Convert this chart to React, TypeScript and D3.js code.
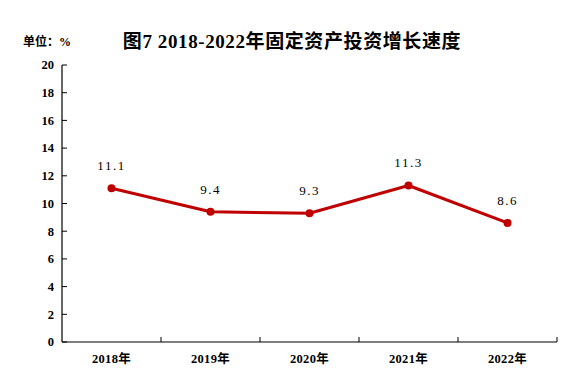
import React from "react";
import * as d3 from "d3";

const categories = ["2018年", "2019年", "2020年", "2021年", "2022年"];
const values = [11.1, 9.4, 9.3, 11.3, 8.6];
const valueLabels = ["11.1", "9.4", "9.3", "11.3", "8.6"];
const yTicks = [0, 2, 4, 6, 8, 10, 12, 14, 16, 18, 20];
const title = "图7 2018-2022年固定资产投资增长速度";
const unitLabel = "单位：%";

const W = 580;
const H = 380;
const M = { left: 62, right: 23, top: 65, bottom: 38 };
const FONT = "'Liberation Serif', 'DejaVu Serif', 'Noto Sans CJK SC', serif";

export default function App() {
  const x = d3
    .scaleBand<string>()
    .domain(categories)
    .range([M.left, W - M.right])
    .padding(0);
  const y = d3.scaleLinear().domain([0, 20]).range([H - M.bottom, M.top]);
  const cx = (c: string) => (x(c) as number) + x.bandwidth() / 2;
  const line = d3
    .line<number>()
    .x((_, i) => cx(categories[i]))
    .y((d) => y(d));
  const boundaries = categories.map((c) => (x(c) as number) + x.bandwidth());

  return (
    <svg
      width={W}
      height={H}
      style={{ position: "absolute", left: 0, top: 0, background: "#fff" }}
    >
      <text
        x={292}
        y={48}
        textAnchor="middle"
        fontFamily="'Liberation Serif', 'Noto Sans CJK SC', serif"
        fontWeight="bold"
        fontSize={19}
        letterSpacing={0.6}
        fill="#000"
      >
        {title}
      </text>
      <text
        x={23}
        y={46}
        fontFamily={FONT}
        fontWeight="bold"
        fontSize={12}
        fill="#000"
      >
        {unitLabel}
      </text>
      {/* y axis */}
      <line x1={M.left} x2={M.left} y1={y(20)} y2={y(0)} stroke="#000" strokeWidth={1.2} />
      {yTicks.map((t) => (
        <g key={t}>
          <line x1={M.left} x2={M.left + 5} y1={y(t)} y2={y(t)} stroke="#000" strokeWidth={1} />
          <text
            x={M.left - 8}
            y={y(t)}
            dy="0.35em"
            textAnchor="end"
            fontFamily={FONT}
            fontWeight="bold"
            fontSize={12.5}
            fill="#000"
          >
            {t}
          </text>
        </g>
      ))}
      {/* x axis */}
      <line x1={M.left} x2={W - M.right} y1={y(0)} y2={y(0)} stroke="#000" strokeWidth={1.2} />
      {boundaries.map((b, i) => (
        <line key={i} x1={b} x2={b} y1={y(0)} y2={y(0) - 5} stroke="#000" strokeWidth={1} />
      ))}
      {categories.map((c) => (
        <text
          key={c}
          x={cx(c)}
          y={y(0) + 17}
          dy="0.35em"
          textAnchor="middle"
          fontFamily={FONT}
          fontWeight="bold"
          fontSize={12.5}
          letterSpacing={0.3}
          fill="#000"
        >
          {c}
        </text>
      ))}
      {/* line */}
      <path d={line(values) || ""} fill="none" stroke="#c00000" strokeWidth={3} strokeLinejoin="round" />
      {values.map((v, i) => (
        <g key={i}>
          <circle cx={cx(categories[i])} cy={y(v)} r={4} fill="#c00000" />
          <text
            x={cx(categories[i])}
            y={y(v) - 18}
            textAnchor="middle"
            fontFamily={FONT}
            fontSize={13}
            letterSpacing={1.5}
            fill="#000"
          >
            {valueLabels[i]}
          </text>
        </g>
      ))}
    </svg>
  );
}
